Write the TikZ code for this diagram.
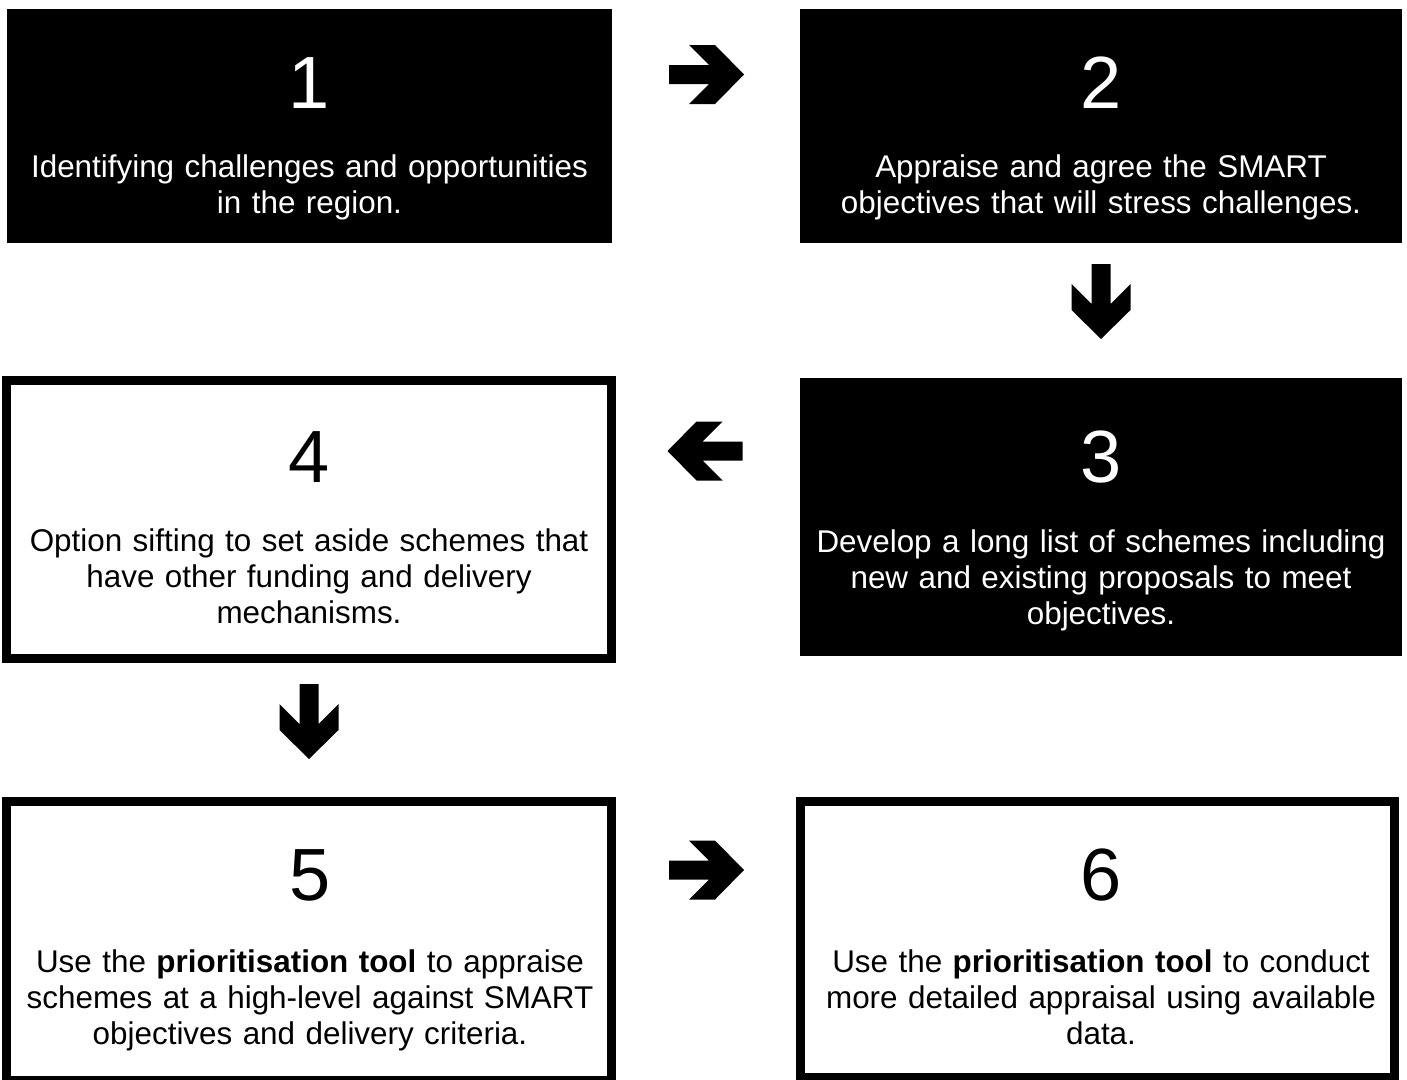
\documentclass[tikz,border=0pt]{standalone}
\usepackage{fontspec}
\setmainfont{Liberation Sans}
\begin{document}
\begin{tikzpicture}[x=1pt,y=-1pt,
  blackbox/.style={fill=black, draw=none, inner sep=0pt, outer sep=0pt},
  whitebox/.style={draw=black, line width=9pt, fill=white, inner sep=0pt, outer sep=0pt},
  num/.style={font=\fontsize{74}{80}\selectfont, anchor=base, inner sep=0pt},
  desc/.style={font=\fontsize{31.4}{36}\selectfont, anchor=base, align=center, text width=600pt, inner sep=0pt},
  blockarrow/.pic={\fill[black] (-37,-9.5) -- (3,-9.5) -- (-17,-29.5) -- (9,-29.5) -- (38,0) -- (9,29.5) -- (-17,29.5) -- (3,9.5) -- (-37,9.5) -- cycle;}
]
\useasboundingbox (0,0) rectangle (1407,1079);
\fill[white] (0,0) rectangle (1407,1079);

% boxes
\node[blackbox, minimum width=605pt, minimum height=234pt] (b1) at (309.5,126) {};
\node[blackbox, minimum width=602pt, minimum height=234pt] (b2) at (1101,126) {};
\node[blackbox, minimum width=602pt, minimum height=278pt] (b3) at (1101,517) {};
\node[whitebox, minimum width=605pt, minimum height=278pt] (b4) at (309,519.5) {};
\node[whitebox, minimum width=605pt, minimum height=279pt] (b5) at (309,941) {};
\node[whitebox, minimum width=594pt, minimum height=276pt] (b6) at (1097.5,939.5) {};

% texts
\node[num, white] (n1) at (309.5,108) {1};
\node[desc, white] (t1) at (309.5,177) {Identifying challenges and opportunities\\in the region.};
\node[num, white] (n2) at (1101,108) {2};
\node[desc, white] (t2) at (1101,177) {Appraise and agree the SMART\\objectives that will stress challenges.};
\node[num, white] (n3) at (1101,482) {3};
\node[desc, white] (t3) at (1101,552) {Develop a long list of schemes including\\new and existing proposals to meet\\objectives.};
\node[num] (n4) at (309,482) {4};
\node[desc] (t4) at (309,551) {Option sifting to set aside schemes that\\have other funding and delivery\\mechanisms.};
\node[num] (n5) at (310,900) {5};
\node[desc] (t5) at (310,972) {Use the \textbf{prioritisation tool} to appraise\\schemes at a high-level against SMART\\objectives and delivery criteria.};
\node[num] (n6) at (1101,900) {6};
\node[desc] (t6) at (1101,972) {Use the \textbf{prioritisation tool} to conduct\\more detailed appraisal using available\\data.};

% arrows
\pic at (706,74.5) {blockarrow};
\pic[rotate=-90] at (1101,301) {blockarrow};
\pic[rotate=180] at (705.5,451) {blockarrow};
\pic[rotate=-90] at (309,721) {blockarrow};
\pic at (706,870) {blockarrow};
\end{tikzpicture}
\end{document}
